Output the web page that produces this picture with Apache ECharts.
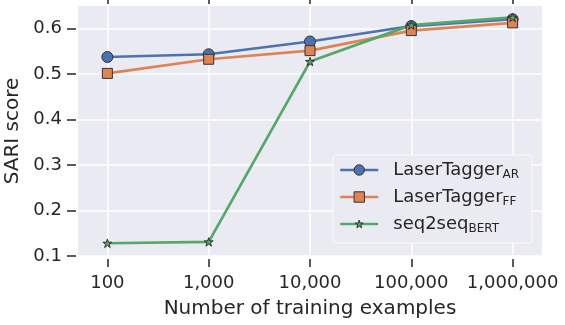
<!DOCTYPE html>
<html><head><meta charset="utf-8">
<script src="https://cdn.jsdelivr.net/npm/echarts@6/dist/echarts.min.js"></script>
<style>html,body{margin:0;padding:0;background:#fff}#c{width:565px;height:325px}</style>
</head><body><div id="c"></div>
<script>
const categories = ['100', '1,000', '10,000', '100,000', '1,000,000'];
const laserTaggerAR = [0.537, 0.543, 0.571, 0.605, 0.620];
const laserTaggerFF = [0.501, 0.532, 0.551, 0.595, 0.612];
const seq2seqBERT = [0.128, 0.131, 0.527, 0.607, 0.624];
const yTicks = [0.1, 0.2, 0.3, 0.4, 0.5, 0.6];
const xTicks = [0, 1, 2, 3, 4];

const FONT = 'DejaVu Sans';
const TXT = '#262626';
// star with invisible padding (move-to points enlarge the bounding box)
const STAR = 'path://M-76.8 -30.2 M176.8 211.1 M50 0 L72.45 69.1 L145.1 69.1 L86.3 111.8 L108.8 180.9 L50 138.2 L-8.8 180.9 L13.7 111.8 L-45.1 69.1 L27.55 69.1 Z';

const toPairs = arr => arr.map((v, i) => [xTicks[i], v]);

const chart = echarts.init(document.getElementById('c'), null, {renderer: 'canvas'});

function series(name, data, color, symbol, size) {
  return {
    name, type: 'line', data: toPairs(data), xAxisIndex: 0,
    symbol, symbolSize: size, symbolKeepAspect: true,
    lineStyle: {color, width: 2.7},
    itemStyle: {color, borderColor: '#333', borderWidth: 1},
    emphasis: {disabled: true}, animation: false
  };
}

const option = {
  animation: false,
  textStyle: {fontFamily: FONT, color: TXT},
  grid: {left: 78, right: 23, top: 6, bottom: 69, show: true, backgroundColor: '#eaeaf2', borderWidth: 0,
         containLabel: false, outerBoundsMode: 'none'},
  xAxis: [{
    type: 'value', min: -0.29, max: 4.29, offset: 3,
    axisLine: {show: false, onZero: false},
    axisTick: {show: true, length: 8, lineStyle: {color: TXT, width: 1.5}, customValues: xTicks},
    axisLabel: {customValues: xTicks, formatter: v => categories[Math.round(v)], fontSize: 18, color: TXT, fontFamily: FONT, margin: 15},
    splitLine: {show: true, lineStyle: {color: '#fff', width: 1.5}},
    name: 'Number of training examples', nameLocation: 'middle', nameGap: 40,
    nameTextStyle: {fontSize: 20, color: TXT, fontFamily: FONT}
  }, {
    type: 'value', position: 'top', min: -0.29, max: 4.29, offset: 2,
    axisLine: {show: false, onZero: false},
    axisTick: {show: true, length: 8, lineStyle: {color: TXT, width: 1.5}, customValues: xTicks},
    axisLabel: {show: false},
    splitLine: {show: false}
  }],
  yAxis: {
    type: 'value', min: 0.1, max: 0.649, offset: 2,
    axisLine: {show: false, onZero: false},
    axisTick: {show: true, length: 9, lineStyle: {color: TXT, width: 1.5}, customValues: yTicks},
    axisLabel: {customValues: yTicks, formatter: v => v.toFixed(1), fontSize: 18, color: TXT, fontFamily: FONT, margin: 14},
    splitLine: {show: true, lineStyle: {color: '#fff', width: 1.5}},
    name: 'SARI score', nameLocation: 'middle', nameGap: 52,
    nameTextStyle: {fontSize: 20, color: TXT, fontFamily: FONT}
  },
  legend: {
    orient: 'vertical', left: 333, top: 155,
    padding: [6, 13, 8, 6],
    backgroundColor: '#eaeaf2', borderColor: '#f8f8fa', borderWidth: 1.2, borderRadius: 3,
    itemWidth: 38, itemHeight: 13, itemGap: 7,
    lineStyle: {width: 2.5},
    itemStyle: {borderWidth: 1, borderColor: '#333'},
    data: ['LaserTaggerAR', 'LaserTaggerFF', 'seq2seqBERT'],
    formatter: function (name) {
      const m = {LaserTaggerAR: ['LaserTagger', 'AR'], LaserTaggerFF: ['LaserTagger', 'FF'], seq2seqBERT: ['seq2seq', 'BERT']}[name];
      return '{sp|}{m|' + m[0] + '}{s|' + m[1] + '}';
    },
    textStyle: {
      color: TXT, fontFamily: FONT,
      rich: {
        sp: {width: 10, height: 22},
        m: {fontSize: 18, lineHeight: 22, color: TXT, fontFamily: FONT},
        s: {fontSize: 12, lineHeight: 14, verticalAlign: 'bottom', color: TXT, fontFamily: FONT}
      }
    }
  },
  series: [
    series('LaserTaggerAR', laserTaggerAR, '#4c72b0', 'circle', 11),
    series('LaserTaggerFF', laserTaggerFF, '#dd8452', 'rect', 10),
    series('seq2seqBERT', seq2seqBERT, '#55a868', STAR, 12)
  ]
};
chart.setOption(option);
</script></body></html>
